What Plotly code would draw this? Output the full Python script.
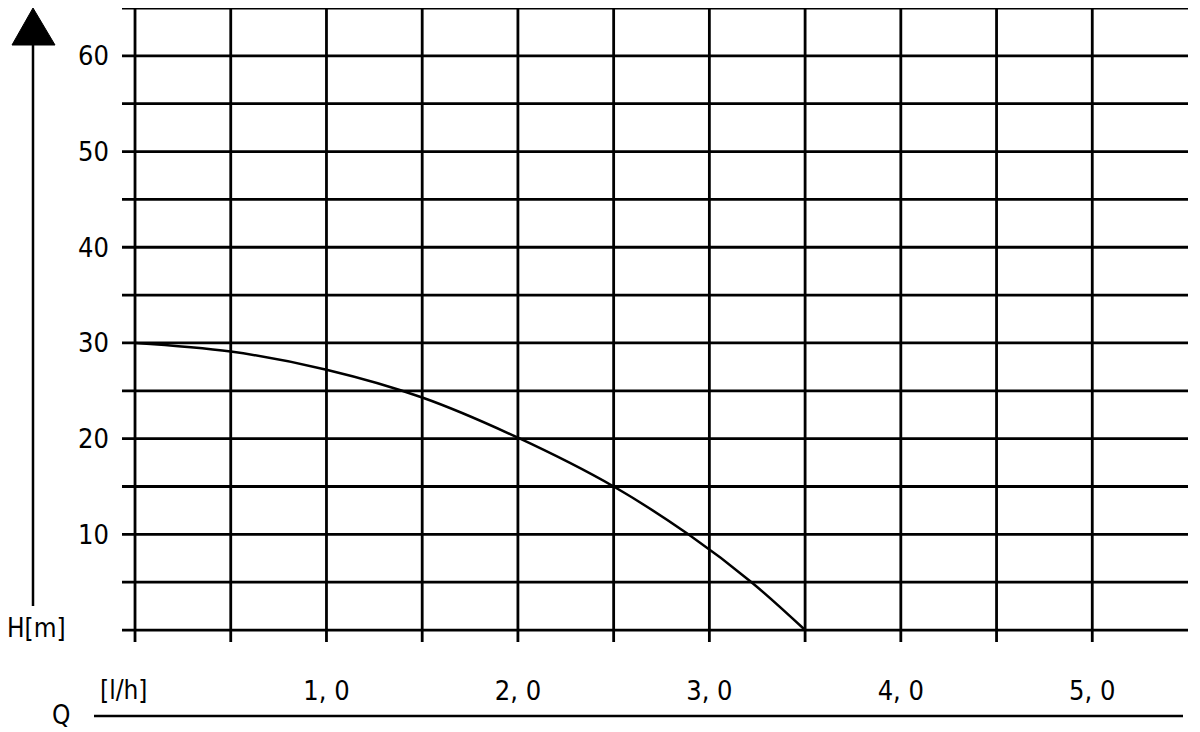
import plotly.graph_objects as go

# pump curve
flow_q = [0.0, 0.5, 1.0, 1.5, 2.0, 2.5, 2.89, 3.22, 3.5]
head_h = [30.0, 29.1, 27.2, 24.3, 20.1, 15.0, 10.0, 5.0, 0.0]

x_grid = [0.0, 0.5, 1.0, 1.5, 2.0, 2.5, 3.0, 3.5, 4.0, 4.5, 5.0]
y_grid = [0, 5, 10, 15, 20, 25, 30, 35, 40, 45, 50, 55, 60, 65]

x_tickvals = [1.0, 2.0, 3.0, 4.0, 5.0]
x_ticktext = ["1, 0", "2, 0", "3, 0", "4, 0", "5, 0"]
y_tickvals = [10, 20, 30, 40, 50, 60]
y_ticktext = ["10", "20", "30", "40", "50", "60"]

FONT = "Liberation Sans Narrow, DejaVu Sans Condensed, sans-serif"
W, H = 1200, 732
L, R, T, B = 122, 12, 8, 90

x_min, x_max = -0.068, 5.5
y_min, y_max = -1.25, 65.0


def px(x):
    return (x - L) / (W - L - R)


def py(y):
    return (H - B - y) / (H - T - B)


fig = go.Figure()

fig.add_trace(go.Scatter(
    x=flow_q, y=head_h,
    mode='lines',
    line=dict(color='black', width=2.5, shape='spline', smoothing=1.0),
    hoverinfo='skip',
    showlegend=False,
))

shapes = []
for gx in x_grid:
    shapes.append(dict(type='line', xref='x', yref='y',
                       x0=gx, x1=gx, y0=y_min, y1=y_max,
                       line=dict(color='black', width=2.8)))
for gy in y_grid:
    shapes.append(dict(type='line', xref='x', yref='y',
                       x0=x_min, x1=x_max, y0=gy, y1=gy,
                       line=dict(color='black', width=2.8)))

# vertical arrow at left
shapes.append(dict(type='line', xref='paper', yref='paper',
                   x0=px(33), x1=px(33), y0=py(606), y1=py(44),
                   line=dict(color='black', width=2.5)))
shapes.append(dict(type='path', xref='paper', yref='paper',
                   path=f"M {px(33)} {py(8)} L {px(55)} {py(45)} L {px(12)} {py(45)} Z",
                   fillcolor='black', line=dict(color='black', width=1)))
# baseline under Q axis labels
shapes.append(dict(type='line', xref='paper', yref='paper',
                   x0=px(94), x1=px(1183), y0=py(716), y1=py(716),
                   line=dict(color='black', width=2.5)))

annotations = []
for txt, ax, ay, ya in [("H[m]", 36, 628, 'middle'), ("[l/h]", 123, 690, 'middle'),
                        ("Q", 61, 731, 'bottom')]:
    annotations.append(dict(text=txt, x=px(ax), y=py(ay),
                            xref='paper', yref='paper',
                            xanchor='center', yanchor=ya,
                            showarrow=False, borderpad=0,
                            font=dict(family=FONT, size=26, color='black')))

fig.update_layout(
    width=W, height=H,
    margin=dict(l=L, r=R, t=T, b=B),
    paper_bgcolor='white', plot_bgcolor='white',
    shapes=shapes,
    annotations=annotations,
    font=dict(family=FONT, size=27, color='black'),
    xaxis=dict(range=[x_min, x_max], showgrid=False, zeroline=False,
               showline=False, ticks='', tickmode='array',
               tickvals=x_tickvals, ticktext=x_ticktext,
               ticklabelstandoff=30, fixedrange=True),
    yaxis=dict(range=[y_min, y_max], showgrid=False, zeroline=False,
               showline=False, ticks='', tickmode='array',
               tickvals=y_tickvals, ticktext=y_ticktext,
               ticklabelstandoff=12, fixedrange=True),
)

fig.write_html("out.html", config={'displayModeBar': False},
               post_script="document.body.style.margin='0';")
